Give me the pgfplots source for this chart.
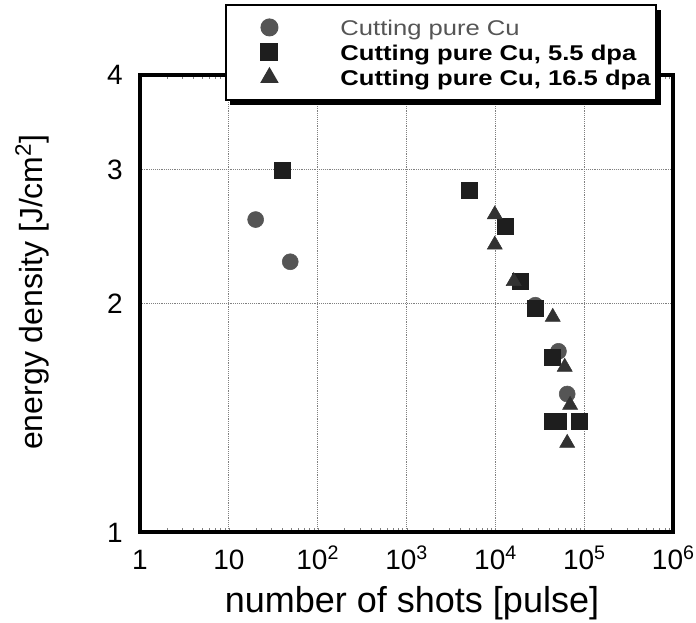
\documentclass[border=0pt]{standalone}
\usepackage{fontspec}
\setmainfont{Liberation Sans}
\newfontfamily\legfont[FakeStretch=1.2]{Liberation Sans}
\usepackage{pgfplots}
\pgfplotsset{compat=1.18}
\usetikzlibrary{shadows}

\definecolor{circgray}{RGB}{85,85,85}
\definecolor{sqblack}{RGB}{30,30,30}
\definecolor{trigray}{RGB}{50,50,50}

\begin{document}
\begin{tikzpicture}
\useasboundingbox (-105pt,-67.5pt) rectangle (417pt,399pt);
\begin{axis}[
    scale only axis,
    width=400pt, height=342.75pt,
    xmode=log, ymode=log,
    xmin=1, xmax=1e6, ymin=1, ymax=4,
    xtick={1,10,100,1000,10000,100000,1000000},
    xticklabels={1,10,10\textsuperscript{2},10\textsuperscript{3},10\textsuperscript{4},10\textsuperscript{5},10\textsuperscript{6}},
    ytick={1,2,3,4},
    yticklabels={1,2,3,4},
    minor xtick={}, minor ytick={},
    major tick length=0pt,
    grid=major,
    major grid style={densely dotted, gray, line width=0.6pt},
    axis line style={line width=3.2pt},
    tick label style={font=\fontsize{21}{21}\selectfont},
    /pgf/number format/assume math mode=true,
    xticklabel style={anchor=north, inner sep=0pt, text height=15pt, text depth=0pt, yshift=-12.75pt},
    yticklabel style={anchor=east, inner sep=0pt, text height=15pt, text depth=0pt, xshift=-12.75pt},
    xlabel={number of shots [pulse]},
    ylabel={energy density [J/cm\textsuperscript{2}]},
    xlabel style={font=\fontsize{27}{27}\selectfont, at={(axis description cs:0.51,0)}, anchor=base, yshift=-60pt},
    ylabel style={font=\fontsize{24}{24}\selectfont, at={(axis description cs:-0.182,0.525)}, anchor=base},
    legend cell align=left,
    legend style={at={(0.159,1.1556)}, anchor=north west,
        draw=black, line width=1.5pt, fill=white,
        drop shadow={shadow xshift=3.5pt, shadow yshift=-3.5pt, fill=black, opacity=1},
        font=\legfont\fontsize{16}{16}\selectfont,
        inner xsep=0pt, inner ysep=7.5pt,
        nodes={inner sep=0pt, text height=15.1pt, text depth=3.7pt, text width=237pt},
        /tikz/column sep=0pt},
    legend image code/.code={\path (-32pt,0pt) (52.5pt,0pt);
        \draw[#1] plot coordinates {(0pt,0pt)};},
]

\addplot[only marks, mark=*, mark size=6pt, color=circgray] coordinates {
    (20, 2.58)
    (49, 2.27)
    (28000, 1.99)
    (51000, 1.73)
    (64000, 1.52)
};
\addlegendentry{\textcolor{circgray}{Cutting pure Cu}}

\addplot[only marks, mark=square*, mark size=6pt, color=sqblack] coordinates {
    (40, 3.0)
    (5070, 2.82)
    (12900, 2.53)
    (19000, 2.14)
    (28000, 1.97)
    (44000, 1.70)
    (43000, 1.40)
    (51000, 1.40)
    (88000, 1.40)
};
\addlegendentry{\bfseries Cutting pure Cu, 5.5 dpa}

\addplot[only marks, mark=triangle*, mark size=6.5pt, color=trigray] coordinates {
    (9800, 2.62)
    (9800, 2.39)
    (16000, 2.14)
    (44000, 1.92)
    (60000, 1.65)
    (69000, 1.47)
    (64000, 1.31)
};
\addlegendentry{\bfseries Cutting pure Cu, 16.5 dpa}

\end{axis}
\end{tikzpicture}
\end{document}
